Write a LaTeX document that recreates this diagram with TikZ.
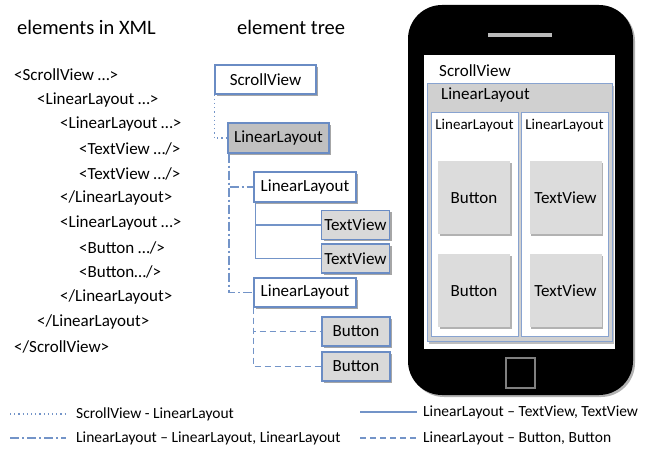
\documentclass[tikz,border=0pt]{standalone}
\usepackage{fontspec}
\setmainfont{Carlito}
\usetikzlibrary{shadows,calc}
\definecolor{lblue}{HTML}{7394C8}
\definecolor{bborder}{HTML}{6A8CC4}
\definecolor{gfill}{HTML}{C0C0C0}
\definecolor{lfill}{HTML}{D9D9D9}
\definecolor{pfill}{HTML}{D0D0D0}
\definecolor{bfill}{HTML}{DCDCDC}
\tikzset{
  txt/.style={anchor=west, inner sep=0pt, font=\fontsize{17}{19}\selectfont},
  ttl/.style={anchor=west, inner sep=0pt, font=\fontsize{20.5}{22}\selectfont},
  lgd/.style={anchor=west, inner sep=0pt, font=\fontsize{15.5}{17}\selectfont},
  tbox/.style={draw=bborder, line width=1.1pt, inner sep=0pt, anchor=center,
    font=\fontsize{17}{19}\selectfont,
    drop shadow={shadow xshift=2pt, shadow yshift=-2pt, opacity=0.35, fill=black}},
  conn/.style={draw=lblue, line width=1.4pt},
  dotline/.style={conn, dash pattern=on 1.2pt off 3pt},
  dashdotline/.style={conn, dash pattern=on 9pt off 3pt on 2pt off 3pt},
  dashline/.style={conn, dash pattern=on 6pt off 4pt},
  solidline/.style={conn},
  pbtn/.style={fill=bfill, inner sep=0pt, minimum width=72pt, minimum height=73pt,
    font=\fontsize{17}{19}\selectfont,
    drop shadow={shadow xshift=1.5pt, shadow yshift=-2pt, opacity=0.3, fill=black}},
}
\begin{document}
\begin{tikzpicture}[x=1pt,y=-1pt]
\useasboundingbox (0,0) rectangle (654,449);

% titles
\node[ttl] (t1) at (17,27) {elements in XML};
\node[ttl] (t2) at (237,27) {element tree};

% XML
\node[txt] (x1)  at (14,75)  {<ScrollView …>};
\node[txt] (x2)  at (37,100) {<LinearLayout …>};
\node[txt] (x3)  at (60,124) {<LinearLayout …>};
\node[txt] (x4)  at (79,149) {<TextView …/>};
\node[txt] (x5)  at (79,174) {<TextView …/>};
\node[txt] (x6)  at (60,198) {</LinearLayout>};
\node[txt] (x7)  at (60,223) {<LinearLayout …>};
\node[txt] (x8)  at (79,248) {<Button …/>};
\node[txt] (x9)  at (79,272) {<Button…/>};
\node[txt] (x10) at (60,297) {</LinearLayout>};
\node[txt] (x11) at (37,322) {</LinearLayout>};
\node[txt] (x12) at (14,347) {</ScrollView>};

% tree
\node[tbox, fill=white, minimum width=101pt, minimum height=29pt] (sv) at (265.5,79.5) {ScrollView};
\node[tbox, fill=gfill, minimum width=101pt, minimum height=30pt] (l1) at (278.5,138) {LinearLayout};
\node[tbox, fill=white, minimum width=102pt, minimum height=30pt] (l2) at (305,187) {LinearLayout};
\node[tbox, fill=lfill, minimum width=68pt, minimum height=29pt] (tv1) at (355.5,225) {TextView};
\node[tbox, fill=lfill, minimum width=68pt, minimum height=29pt] (tv2) at (355.5,258.5) {TextView};
\node[tbox, fill=white, minimum width=102pt, minimum height=29pt] (l3) at (305,292.5) {LinearLayout};
\node[tbox, fill=lfill, minimum width=68pt, minimum height=29pt] (b1) at (356,331.5) {Button};
\node[tbox, fill=lfill, minimum width=68pt, minimum height=29pt] (b2) at (356,366.5) {Button};

\draw[dotline] (sv.south west) |- (l1.west);
\draw[dashdotline] ($(l1.south west)+(1.5,0)$) |- (l2.west);
\draw[dashdotline] ($(l1.south west)+(1.5,0)$) |- (l3.west);
\draw[solidline] ($(l2.south west)+(2,0)$) |- (tv1.west);
\draw[solidline] ($(l2.south west)+(2,0)$) |- (tv2.west);
\draw[dashline] (l3.south west) |- (b1.west);
\draw[dashline] (l3.south west) |- (b2.west);

% phone
\node[fill=black, rounded corners=34pt, minimum width=225pt, minimum height=390pt, inner sep=0pt,
  drop shadow={shadow xshift=2pt, shadow yshift=-2pt, opacity=0.3, fill=black}] (phone) at (520.5,200) {};
\node[fill=black!27, minimum width=64pt, minimum height=4pt, inner sep=0pt] (spk) at (520,35) {};
\node[fill=white, minimum width=191pt, minimum height=294pt, inner sep=0pt] (screen) at (519.5,202) {};
\node[draw=black!50, line width=1.3pt, minimum width=29pt, minimum height=30pt, inner sep=0pt] (home) at (520.5,373) {};
\node[txt] (psv) at (439,71) {ScrollView};
\node[draw=bborder!80, line width=1pt, fill=pfill, minimum width=185pt, minimum height=258pt, inner sep=0pt,
  drop shadow={shadow xshift=1.5pt, shadow yshift=-2pt, opacity=0.25, fill=black}] (pll) at (519.5,213) {};
\node[txt] (pllt) at (441,95) {LinearLayout};
\node[draw=bborder!80, line width=1pt, fill=white, minimum width=87pt, minimum height=224pt, inner sep=0pt] (pl1) at (474.5,225) {};
\node[draw=bborder!80, line width=1pt, fill=white, minimum width=87pt, minimum height=224pt, inner sep=0pt] (pl2) at (564.5,225) {};
\node[inner sep=0pt, font=\fontsize{15}{17}\selectfont] (pl1t) at (474.5,126) {LinearLayout};
\node[inner sep=0pt, font=\fontsize{15}{17}\selectfont] (pl2t) at (564.5,126) {LinearLayout};
\node[pbtn] (pb1) at (474,198) {Button};
\node[pbtn] (pb2) at (474,291) {Button};
\node[pbtn] (pt1) at (565.5,198) {TextView};
\node[pbtn] (pt2) at (565.5,291) {TextView};

% legend
\coordinate (a1) at (10,414); \coordinate (a2) at (66,414);
\coordinate (b1l) at (10,438); \coordinate (b2l) at (66,438);
\coordinate (c1) at (360,412); \coordinate (c2) at (417,412);
\coordinate (d1) at (360,438); \coordinate (d2) at (417,438);
\draw[dotline] (a1) -- (a2);
\draw[dashdotline] (b1l) -- (b2l);
\draw[solidline] (c1) -- (c2);
\draw[dashline] (d1) -- (d2);
\node[lgd] (la) at (76,414) {ScrollView - LinearLayout};
\node[lgd] (lb) at (76,438) {LinearLayout – LinearLayout, LinearLayout};
\node[lgd] (lc) at (423,412) {LinearLayout – TextView, TextView};
\node[lgd] (ld) at (423,438) {LinearLayout – Button, Button};
\end{tikzpicture}
\end{document}
